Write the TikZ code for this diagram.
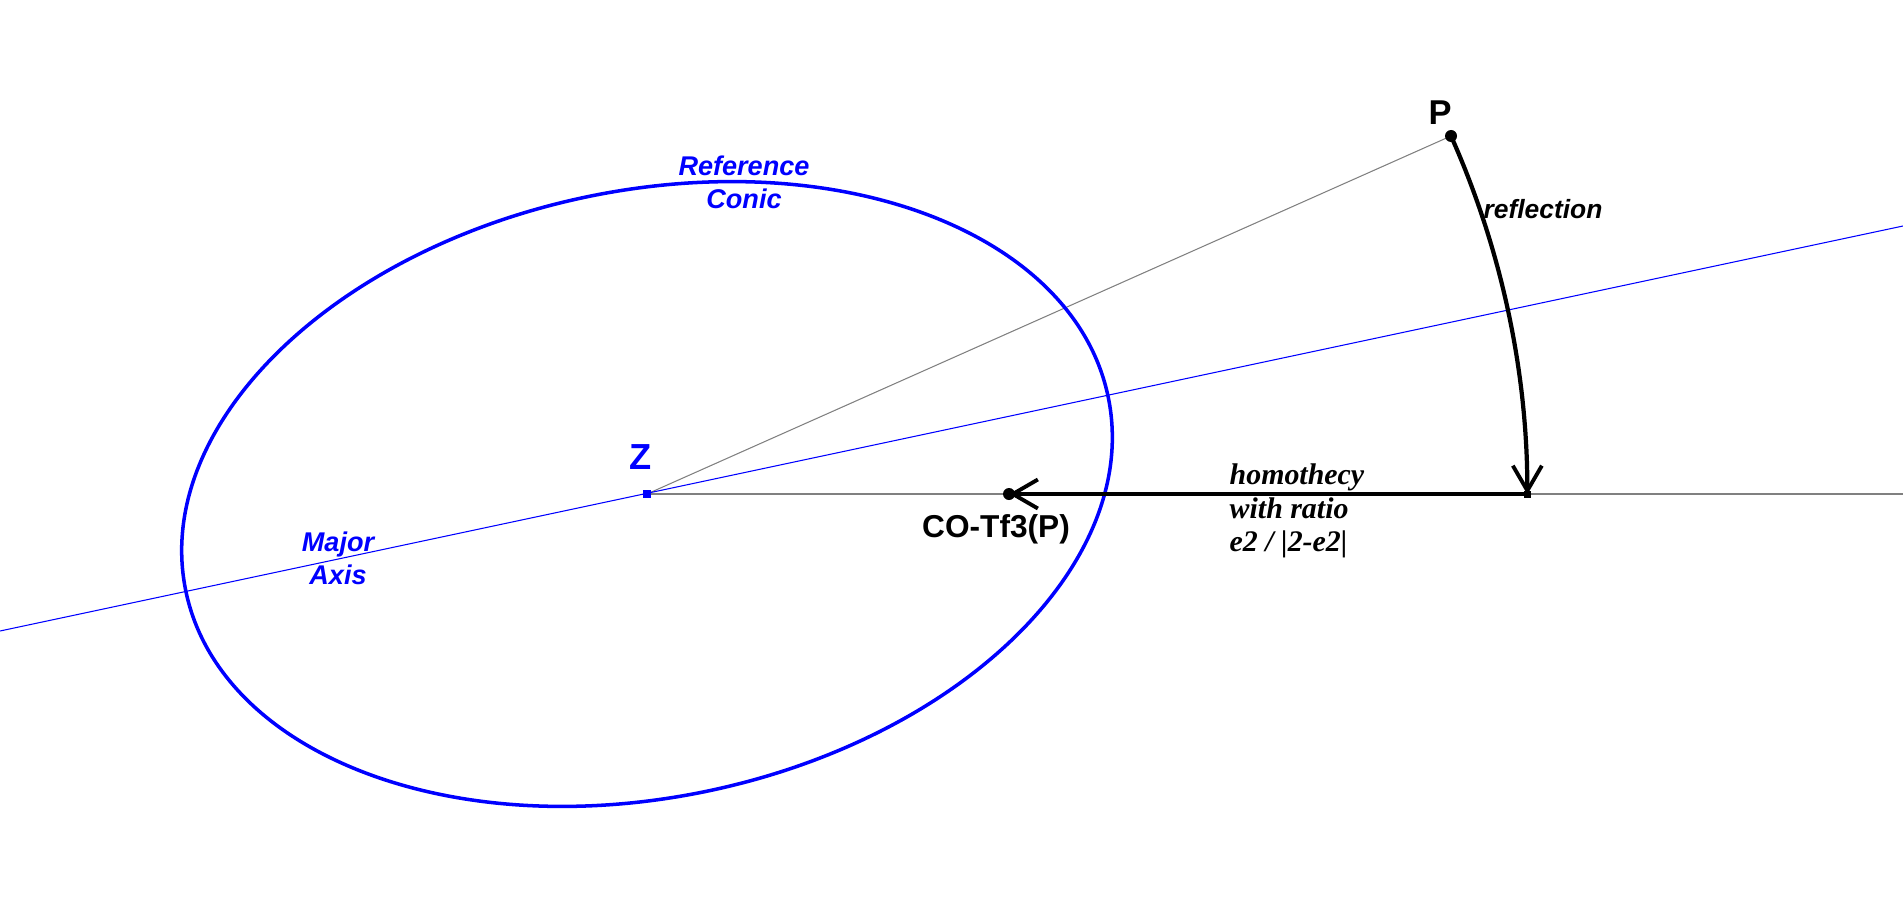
\documentclass[tikz,border=0pt]{standalone}
\usepackage{fontspec}
\setmainfont{Liberation Sans}
\newfontfamily\homfont{Liberation Serif}
\usetikzlibrary{arrows.meta}
\tikzset{
  bluelbl/.style={text=blue,inner sep=0pt,align=center,font=\fontsize{7.7}{9.4}\selectfont\bfseries\itshape},
  ptlbl/.style={inner sep=0pt,font=\fontsize{9.8}{11}\selectfont\bfseries},
  thinline/.style={line width=0.3pt},
  maparrow/.style={line width=1.2pt,-{Straight Barb[length=0.25cm,width=0.29cm,line width=1.1pt]}}
}
\begin{document}
\begin{tikzpicture}[x=0.01cm,y=0.01cm]
\useasboundingbox (0,0) rectangle (1903,914);
\coordinate (Z) at (647,420);
\coordinate (P) at (1451,778);
\coordinate (R) at (1527,420);
\coordinate (H) at (1009,420);
\coordinate (ax1) at (0,283);
\coordinate (ax2) at (1903,688);
\coordinate (hz) at (1903,420);
\draw[thinline,gray] (Z) -- (P);
\draw[thinline,gray] (Z) -- (hz);
\draw[thinline,blue] (ax1) -- (ax2);
\draw[blue,line width=1pt,rotate around={12:(Z)}] (Z) ellipse [x radius=4.71cm,y radius=3.03cm];
\draw[maparrow] (P) arc[start angle=24.03,end angle=0,radius=8.8cm];
\draw[maparrow] (R) -- (H);
\fill (P) circle (0.06cm);
\fill (H) circle (0.06cm);
\fill (R) +(-0.035cm,-0.035cm) rectangle +(0.035cm,0.035cm);
\fill[blue] (Z) +(-0.04cm,-0.04cm) rectangle +(0.04cm,0.04cm);
\node (Plbl) at (1440,801) [ptlbl] {P};
\node (Zlbl) at (641,457) [ptlbl,text=blue,font=\fontsize{10.3}{12}\selectfont\bfseries] {Z};
\node (Hlbl) at (996,385) [ptlbl,font=\fontsize{9}{11}\selectfont\bfseries] {CO-Tf3(P)};
\node (refl) at (1543,705) [inner sep=0pt,font=\fontsize{7.5}{9}\selectfont\bfseries\itshape] {reflection};
\node (conic) at (744,732) [bluelbl] {Reference\\Conic};
\node (axis) at (338,356) [bluelbl] {Major\\Axis};
\node (hom) at (1229,403) [anchor=west,inner sep=0pt,align=left,font=\fontsize{8.5}{9.5}\selectfont\homfont\bfseries\itshape] {homothecy\\with ratio\\e2 / |2-e2|};
\end{tikzpicture}
\end{document}
